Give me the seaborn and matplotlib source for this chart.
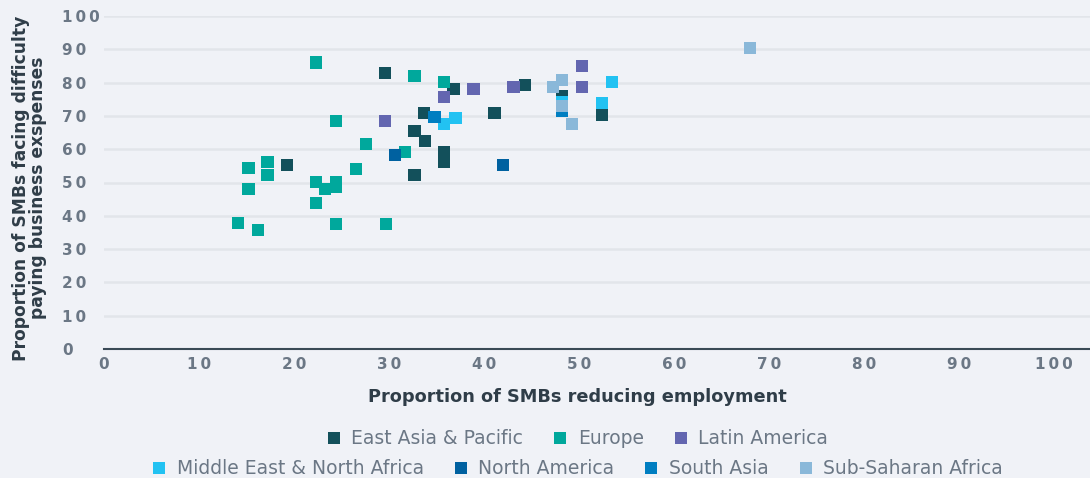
import numpy as np
import pandas as pd
import matplotlib.pyplot as plt
import seaborn as sns

regions = ["East Asia & Pacific", "Europe", "Latin America",
           "Middle East & North Africa", "North America", "South Asia",
           "Sub-Saharan Africa"]
colors = ["#13505B", "#00A89C", "#6366B0", "#22C2F2", "#0061A0", "#007EC1", "#8AB8D9"]

east_asia_x = [19.3, 29.6, 36.8, 44.3, 33.7, 41.1, 32.7, 33.8, 35.8, 35.8, 32.7, 48.2, 52.4]
east_asia_y = [55.3, 82.9, 78.1, 79.3, 70.9, 70.9, 65.5, 62.5, 59.2, 56.2, 52.3, 75.8, 70.3]
europe_x = [22.3, 24.4, 15.2, 17.2, 17.2, 15.2, 22.3, 23.3, 24.4, 24.4, 22.3, 14.1, 16.2,
            24.4, 29.7, 32.7, 35.8, 27.6, 31.7, 26.5]
europe_y = [86.0, 68.5, 54.4, 56.2, 52.3, 48.0, 50.2, 48.0, 50.2, 48.6, 43.8, 37.8, 35.7,
            37.5, 37.5, 82.0, 80.2, 61.6, 59.2, 54.1]
latin_x = [38.9, 43.1, 35.8, 29.6, 50.3, 50.3]
latin_y = [78.1, 78.7, 75.7, 68.5, 85.0, 78.7]
mena_x = [35.8, 37.0, 53.5, 52.4, 48.2]
mena_y = [67.6, 69.4, 80.2, 73.9, 74.2]
north_am_x = [30.6, 42.0]
north_am_y = [58.3, 55.3]
south_asia_x = [34.8, 48.2]
south_asia_y = [69.7, 71.5]
ssa_x = [47.3, 48.2, 49.3, 68.0, 48.2]
ssa_y = [78.7, 80.8, 67.6, 90.4, 73.0]

xs = [east_asia_x, europe_x, latin_x, mena_x, north_am_x, south_asia_x, ssa_x]
ys = [east_asia_y, europe_y, latin_y, mena_y, north_am_y, south_asia_y, ssa_y]
df = pd.concat([pd.DataFrame({"x": x, "y": y, "region": r}) for x, y, r in zip(xs, ys, regions)],
               ignore_index=True)

bg = "#F0F2F7"
tick_col = "#6B7785"
label_col = "#2F3D48"

sns.set_style("white")
plt.rcParams["font.family"] = ["DejaVu Sans"]

fig = plt.figure(figsize=(10.9, 4.78), dpi=100, facecolor=bg)
ax = fig.add_axes([104 / 1090, 1 - 349 / 478, 986 / 1090, 333 / 478])
ax.set_facecolor(bg)

sns.scatterplot(data=df, x="x", y="y", hue="region", hue_order=regions,
                palette=dict(zip(regions, colors)), marker="s", s=78,
                linewidth=0, ax=ax, zorder=3)

ax.set_xlim(0, 103.8)
ax.set_ylim(0, 100)
ticks = np.arange(0, 101, 10)
spaced = ["\u2009".join(str(t)) for t in ticks]
ax.set_xticks(ticks, spaced)
ax.set_yticks(ticks, spaced)
ax.yaxis.grid(True, color="#E2E5EA", linewidth=1.8)
ax.set_axisbelow(True)
for s in ["top", "right", "left"]:
    ax.spines[s].set_visible(False)
ax.spines["bottom"].set_color("#3A4A56")
ax.spines["bottom"].set_linewidth(1.5)
ax.spines["bottom"].set_zorder(4)

ax.tick_params(axis="both", length=0, labelsize=11, labelcolor=tick_col)
ax.tick_params(axis="x", pad=6)
ax.tick_params(axis="y", pad=30)
for t in ax.get_xticklabels() + ax.get_yticklabels():
    t.set_fontweight("bold")
for t in ax.get_yticklabels():
    t.set_horizontalalignment("left")

ax.set_xlabel("Proportion of SMBs reducing employment", fontsize=12.8,
              fontweight="bold", color=label_col)
ax.xaxis.set_label_coords(0.48, -0.118)
ax.set_ylabel("Proportion of SMBs facing difficulty\npaying business exspenses",
              fontsize=12.3, fontweight="bold", color=label_col, linespacing=0.95)
ax.yaxis.set_label_coords(-0.058, 0.483)

handles, labels = ax.get_legend_handles_labels()
ax.get_legend().remove()
leg_kw = dict(frameon=False, fontsize=13.5, labelcolor=tick_col, handlelength=0.85,
              handletextpad=0.5, columnspacing=1.55, markerscale=1.05)
leg1 = fig.legend(handles[:3], labels[:3], ncol=3, loc="center",
                  bbox_to_anchor=(577 / 1090, 1 - 439 / 478), **leg_kw)
leg2 = fig.legend(handles[3:], labels[3:], ncol=4, loc="center",
                  bbox_to_anchor=(577 / 1090, 1 - 469 / 478), **leg_kw)

fig.savefig("out.png", dpi=100, facecolor=bg)
